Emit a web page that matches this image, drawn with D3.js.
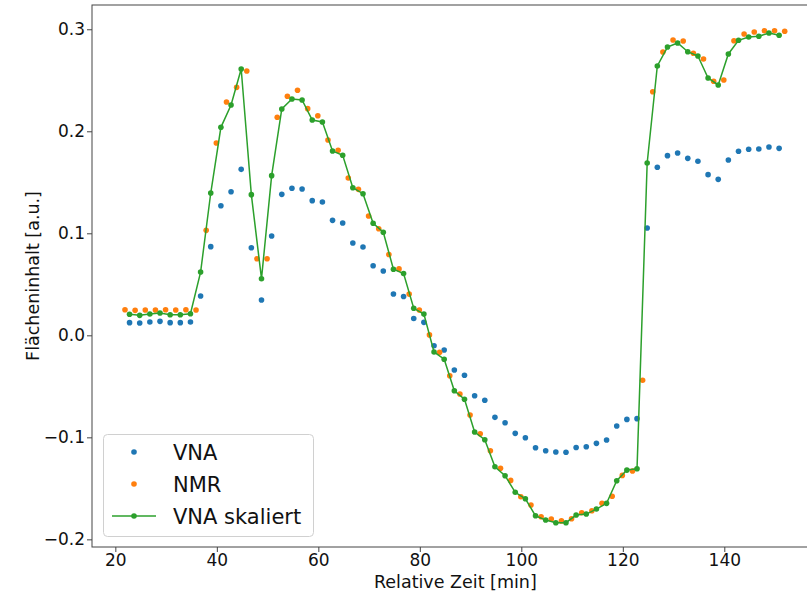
<!DOCTYPE html>
<html><head><meta charset="utf-8">
<script src="https://cdn.jsdelivr.net/npm/d3@7"></script>
<style>body{margin:0;background:#fff}svg{display:block}text{font-family:"DejaVu Sans",sans-serif}</style>
</head><body><svg id="c" width="807" height="596"></svg>
<script>
const vnaTime = [22.8,24.8,26.8,28.8,30.8,32.8,34.8,36.8,38.8,40.8,42.8,44.8,46.8,48.8,50.8,52.8,54.8,56.8,58.8,60.8,62.8,64.8,66.8,68.8,70.8,72.8,74.8,76.8,78.8,80.8,82.8,84.8,86.8,88.8,90.8,92.8,94.8,96.8,98.8,100.8,102.8,104.8,106.8,108.8,110.8,112.8,114.8,116.8,118.8,120.8,122.8,124.8,126.8,128.8,130.8,132.8,134.8,136.8,138.8,140.8,142.8,144.8,146.8,148.8,150.8];
const vnaValues = [0.0124,0.0121,0.013,0.0137,0.0124,0.0124,0.013,0.0385,0.0869,0.127,0.1408,0.1627,0.0859,0.0346,0.0974,0.1382,0.1441,0.1434,0.132,0.1307,0.1127,0.1101,0.0905,0.0866,0.0682,0.063,0.0405,0.038,0.0165,0.0127,-0.0102,-0.0144,-0.034,-0.0392,-0.0592,-0.0637,-0.0804,-0.0857,-0.0961,-0.1004,-0.1102,-0.1131,-0.1144,-0.1146,-0.11,-0.1092,-0.1059,-0.1026,-0.0889,-0.0824,-0.0817,0.1052,0.1647,0.1761,0.1787,0.1735,0.1706,0.1575,0.1529,0.1719,0.1804,0.1824,0.1826,0.1846,0.1833];
const vnaScaled = [0.0206,0.0196,0.0209,0.0219,0.0202,0.0202,0.0212,0.062,0.1395,0.2039,0.2258,0.2611,0.1379,0.0555,0.1565,0.2219,0.2317,0.2307,0.2111,0.2091,0.1807,0.1765,0.1447,0.1388,0.1098,0.101,0.0648,0.0606,0.0265,0.0208,-0.0163,-0.0234,-0.0543,-0.0627,-0.0948,-0.1023,-0.1288,-0.1376,-0.1539,-0.1602,-0.1769,-0.1811,-0.1837,-0.1837,-0.1762,-0.1752,-0.1703,-0.1647,-0.1425,-0.1321,-0.1308,0.1689,0.264,0.2826,0.2866,0.278,0.2738,0.2523,0.2454,0.2758,0.2892,0.2925,0.2931,0.2964,0.2941];
const nmrTime = [21.9,23.9,25.9,27.9,29.9,31.9,33.9,35.9,37.9,39.9,41.9,43.9,45.9,47.9,49.9,51.9,53.9,55.9,57.9,59.9,61.9,63.9,65.9,67.9,69.9,71.9,73.9,75.9,77.9,79.9,81.9,83.9,85.9,87.9,89.9,91.9,93.9,95.9,97.9,99.9,101.9,103.9,105.9,107.9,109.9,111.9,113.9,115.9,117.9,119.9,121.9,123.9,125.9,127.9,129.9,131.9,133.9,135.9,137.9,139.9,141.9,143.9,145.9,147.9,149.9,151.9];
const nmrValues = [0.0251,0.0245,0.0248,0.0248,0.0251,0.0248,0.0251,0.0248,0.1029,0.1885,0.2287,0.2431,0.2591,0.0751,0.0751,0.2137,0.2343,0.2402,0.2222,0.2153,0.1915,0.1814,0.1542,0.1431,0.117,0.1045,0.0792,0.0651,0.0404,0.0248,0.0004,-0.0166,-0.0396,-0.0575,-0.0781,-0.0965,-0.1131,-0.1304,-0.1422,-0.1582,-0.1664,-0.1778,-0.1801,-0.1819,-0.1798,-0.1739,-0.1719,-0.1647,-0.1578,-0.1373,-0.133,-0.0441,0.2388,0.2777,0.2895,0.2885,0.2765,0.2709,0.249,0.2503,0.2888,0.2954,0.2974,0.2986,0.2986,0.298];
const xTicks = [20,40,60,80,100,120,140];
const yTicks = [-0.2,-0.1,0.0,0.1,0.2,0.3];
const seriesNames = ["VNA","NMR","VNA skaliert"];
const colors = ["#1f77b4","#ff7f0e","#2ca02c"];

const svg = d3.select("#c");
const L = 92, R = 818.7, T = 5, B = 547;
const x = d3.scaleLinear().domain([15.4,158.6]).range([L,R]);
const y = d3.scaleLinear().domain([-0.2075,0.3238]).range([B,T]);
const fmt = d3.format(".1f");

const xa = svg.append("g").attr("transform",`translate(0,${B})`)
  .call(d3.axisBottom(x).tickValues(xTicks).tickSize(5).tickPadding(2).tickFormat(d3.format("d")));
const ya = svg.append("g").attr("transform",`translate(${L},0)`)
  .call(d3.axisLeft(y).tickValues(yTicks).tickSize(5).tickPadding(2).tickFormat(fmt));
[xa,ya].forEach(a=>{
  a.select(".domain").remove();
  a.selectAll("line").attr("stroke","#444");
  a.selectAll("text").attr("font-size",17).attr("fill","#111").attr("font-family","DejaVu Sans");
});
svg.append("rect").attr("x",L).attr("y",T).attr("width",R-L).attr("height",B-T)
  .attr("fill","none").attr("stroke","#444").attr("stroke-width",1);

svg.append("text").attr("x",(L+R)/2).attr("y",588).attr("text-anchor","middle")
  .attr("font-size",17.5).attr("fill","#111").text("Relative Zeit [min]");
svg.append("text").attr("transform",`translate(39,${(T+B)/2}) rotate(-90)`).attr("text-anchor","middle")
  .attr("font-size",17.5).attr("fill","#111").text("Flächeninhalt [a.u.]");

const r = 2.8;
svg.append("g").selectAll("circle").data(vnaTime.map((t,i)=>[t,vnaValues[i]])).join("circle")
  .attr("cx",d=>x(d[0])).attr("cy",d=>y(d[1])).attr("r",r).attr("fill",colors[0]);
svg.append("g").selectAll("circle").data(nmrTime.map((t,i)=>[t,nmrValues[i]])).join("circle")
  .attr("cx",d=>x(d[0])).attr("cy",d=>y(d[1])).attr("r",r).attr("fill",colors[1]);
const scaled = vnaTime.map((t,i)=>[t,vnaScaled[i]]);
svg.append("path").datum(scaled).attr("fill","none").attr("stroke",colors[2]).attr("stroke-width",1.5)
  .attr("d",d3.line().x(d=>x(d[0])).y(d=>y(d[1])));
svg.append("g").selectAll("circle").data(scaled).join("circle")
  .attr("cx",d=>x(d[0])).attr("cy",d=>y(d[1])).attr("r",r).attr("fill",colors[2]);

// legend
const lg = svg.append("g");
lg.append("rect").attr("x",103.5).attr("y",434.5).attr("width",210).attr("height",102).attr("rx",4)
  .attr("fill","#fff").attr("fill-opacity",0.8).attr("stroke","#d0d0d0");
const rowY = [452,484,516];
seriesNames.forEach((n,i)=>{
  if(i===2) lg.append("line").attr("x1",112).attr("x2",156).attr("y1",rowY[i]).attr("y2",rowY[i])
    .attr("stroke",colors[2]).attr("stroke-width",1.5);
  lg.append("circle").attr("cx",134).attr("cy",rowY[i]).attr("r",r).attr("fill",colors[i]);
  lg.append("text").attr("x",173).attr("y",rowY[i]).attr("dy","0.36em").attr("font-size",21)
    .attr("fill","#111").text(n);
});
</script></body></html>
